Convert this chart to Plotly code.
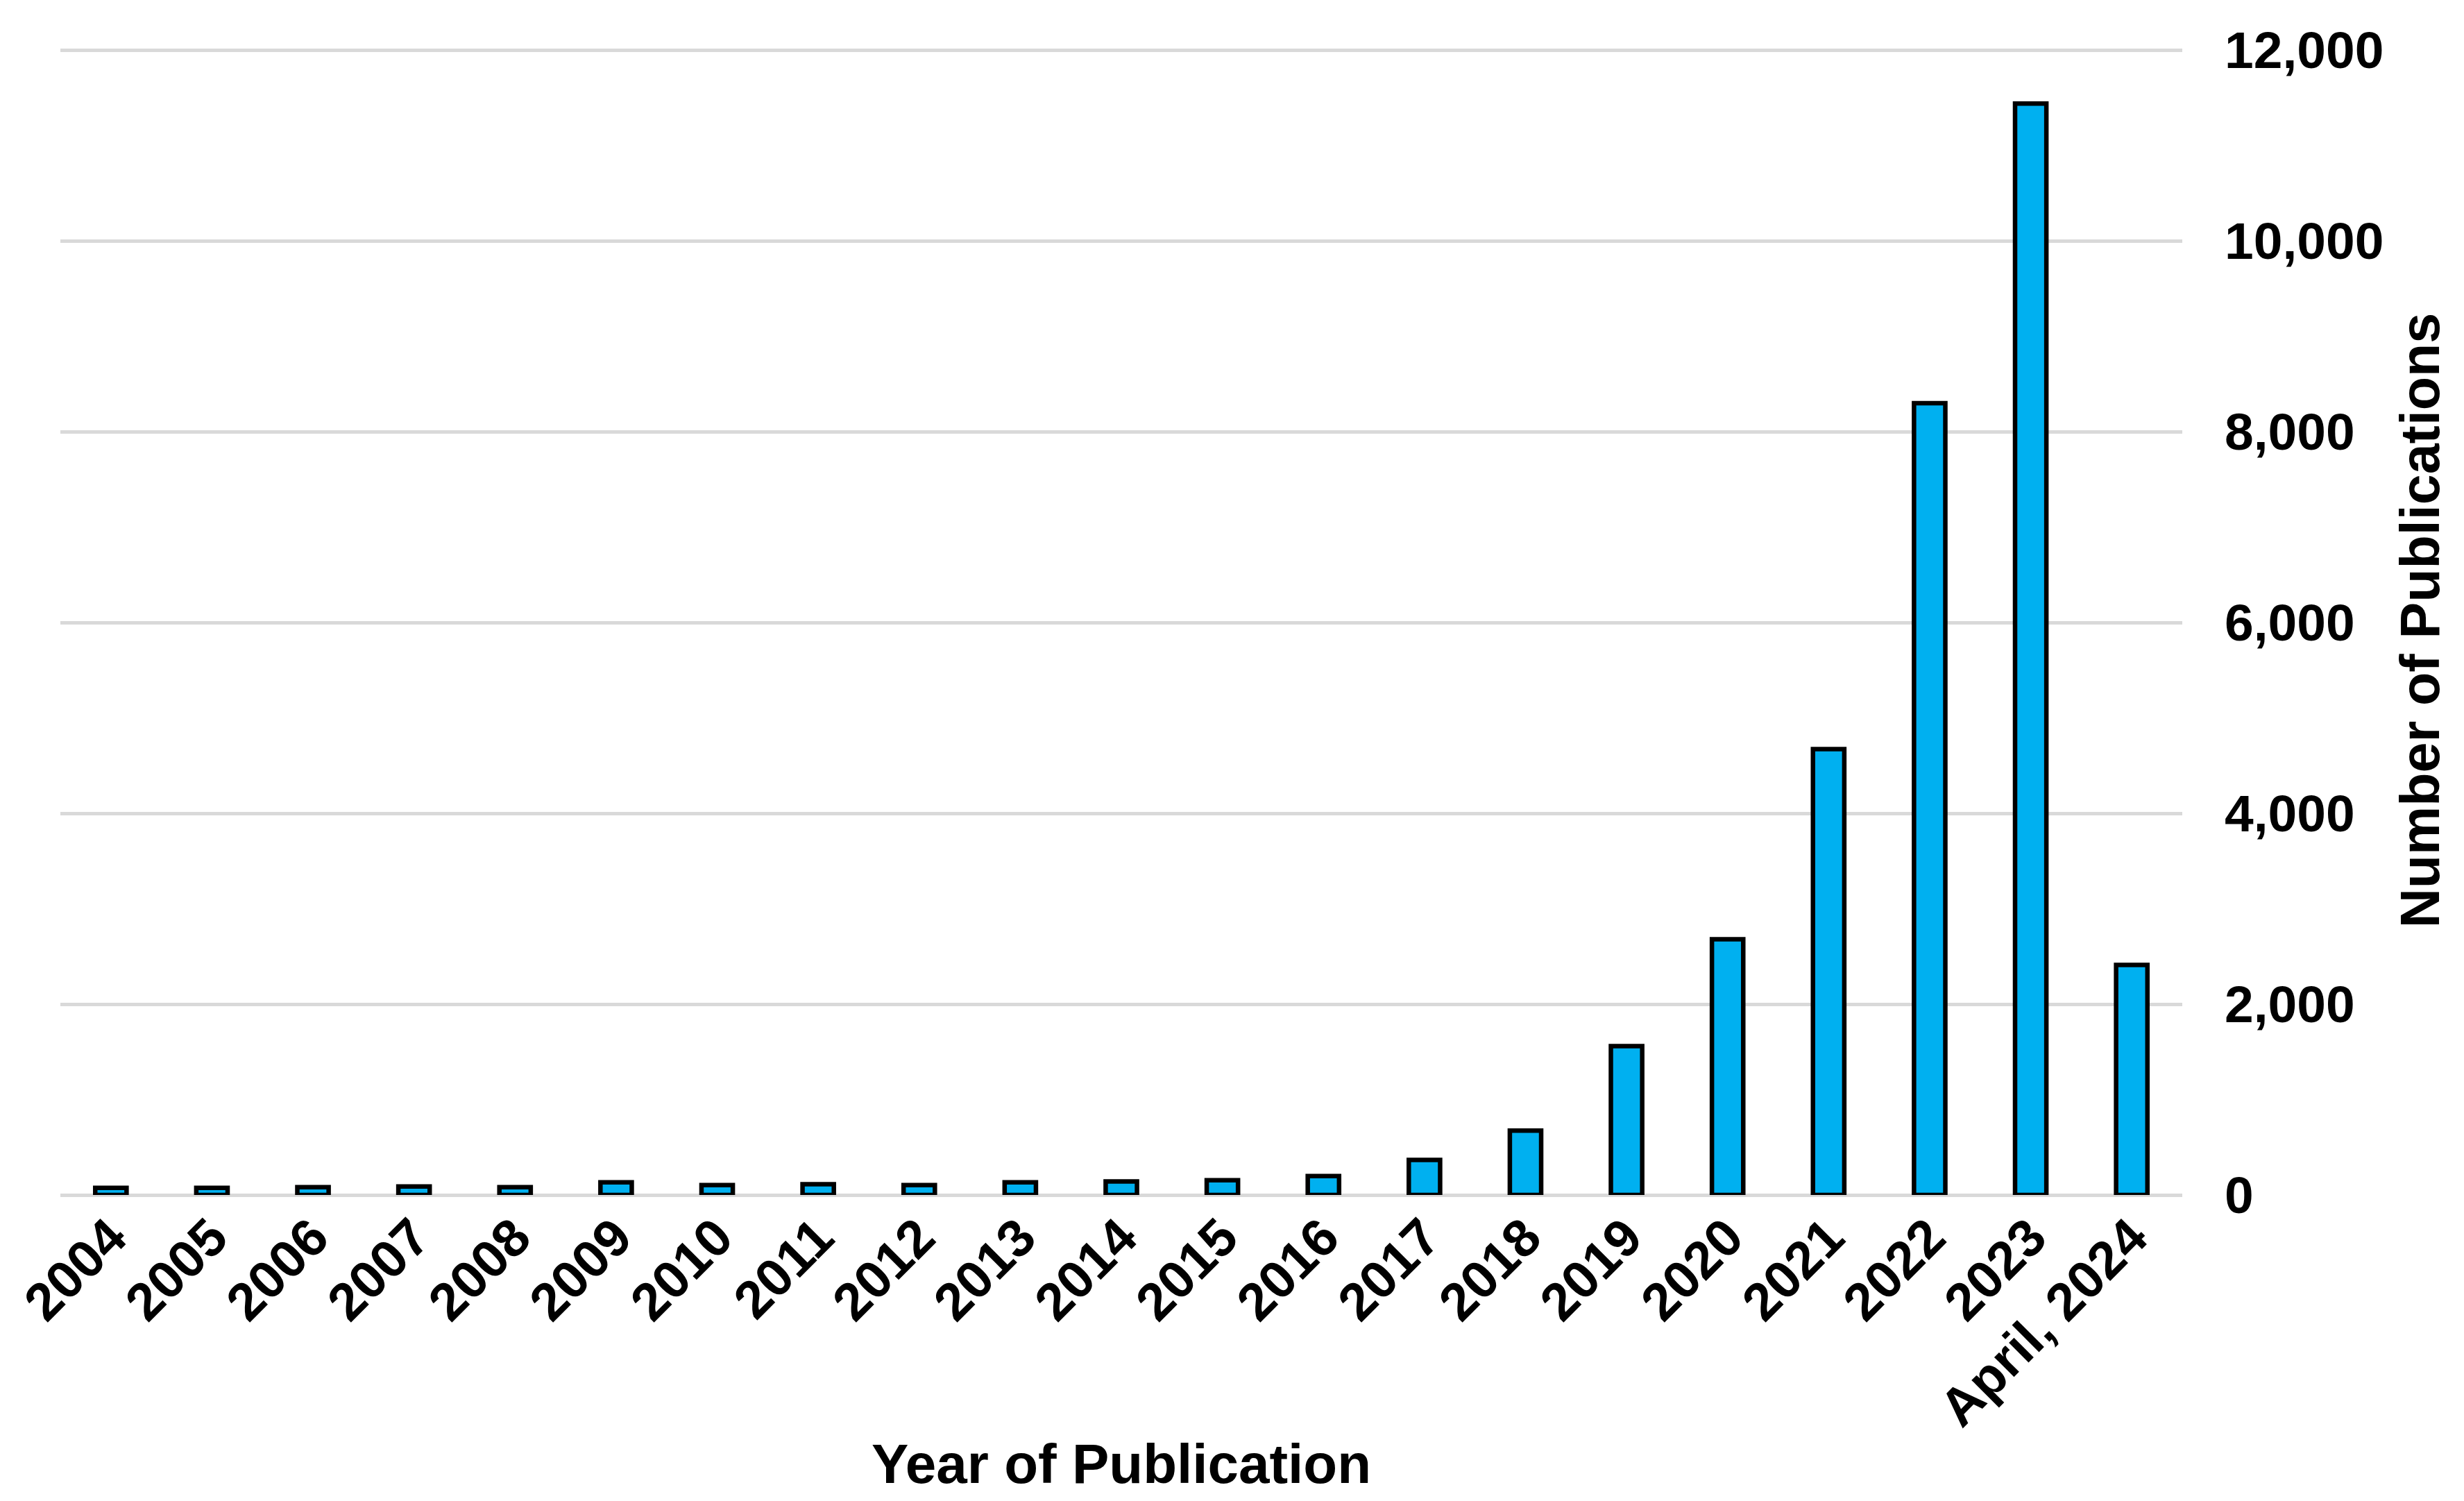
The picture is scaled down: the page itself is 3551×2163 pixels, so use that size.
import plotly.graph_objects as go

years = ["2004", "2005", "2006", "2007", "2008", "2009", "2010", "2011", "2012",
         "2013", "2014", "2015", "2016", "2017", "2018", "2019", "2020", "2021",
         "2022", "2023", "April, 2024"]
publications = [75, 75, 82, 90, 82, 133, 104, 112, 104, 133, 141, 155, 199,
                368, 674, 1561, 2681, 4674, 8300, 11440, 2412]
y_ticks = [0, 2000, 4000, 6000, 8000, 10000, 12000]

FONT = "Arial, Liberation Sans, sans-serif"

fig = go.Figure(
    go.Bar(
        x=years,
        y=publications,
        marker=dict(color="#00B0F0", line=dict(color="#000000", width=6.5)),
    )
)

fig.update_layout(
    width=3551,
    height=2163,
    paper_bgcolor="white",
    plot_bgcolor="white",
    margin=dict(l=79, r=414, t=58, b=449),
    bargap=0.69,
    showlegend=False,
    font=dict(family=FONT, color="black", size=75, weight="bold"),
)

fig.update_xaxes(
    type="category",
    showgrid=False,
    showline=False,
    zeroline=False,
    ticks="",
    tickangle=-45,
    tickfont=dict(family=FONT, size=76, color="black", weight="bold"),
    title=dict(text="Year of Publication",
               font=dict(family=FONT, size=80, color="black", weight="bold"),
               standoff=10),
    automargin=False,
)

fig.update_yaxes(
    side="right",
    range=[0, 12045],
    tickvals=y_ticks,
    tickformat=",",
    showgrid=True,
    gridcolor="#D9D9D9",
    gridwidth=5,
    zeroline=True,
    zerolinecolor="#D9D9D9",
    zerolinewidth=5,
    showline=False,
    ticks="",
    ticklabelstandoff=60,
    tickfont=dict(family=FONT, size=75, color="black", weight="bold"),
    title=dict(text="Number of Publications",
               font=dict(family=FONT, size=79, color="black", weight="bold"),
               standoff=25),
    automargin=False,
)

fig.write_html("out.html")
